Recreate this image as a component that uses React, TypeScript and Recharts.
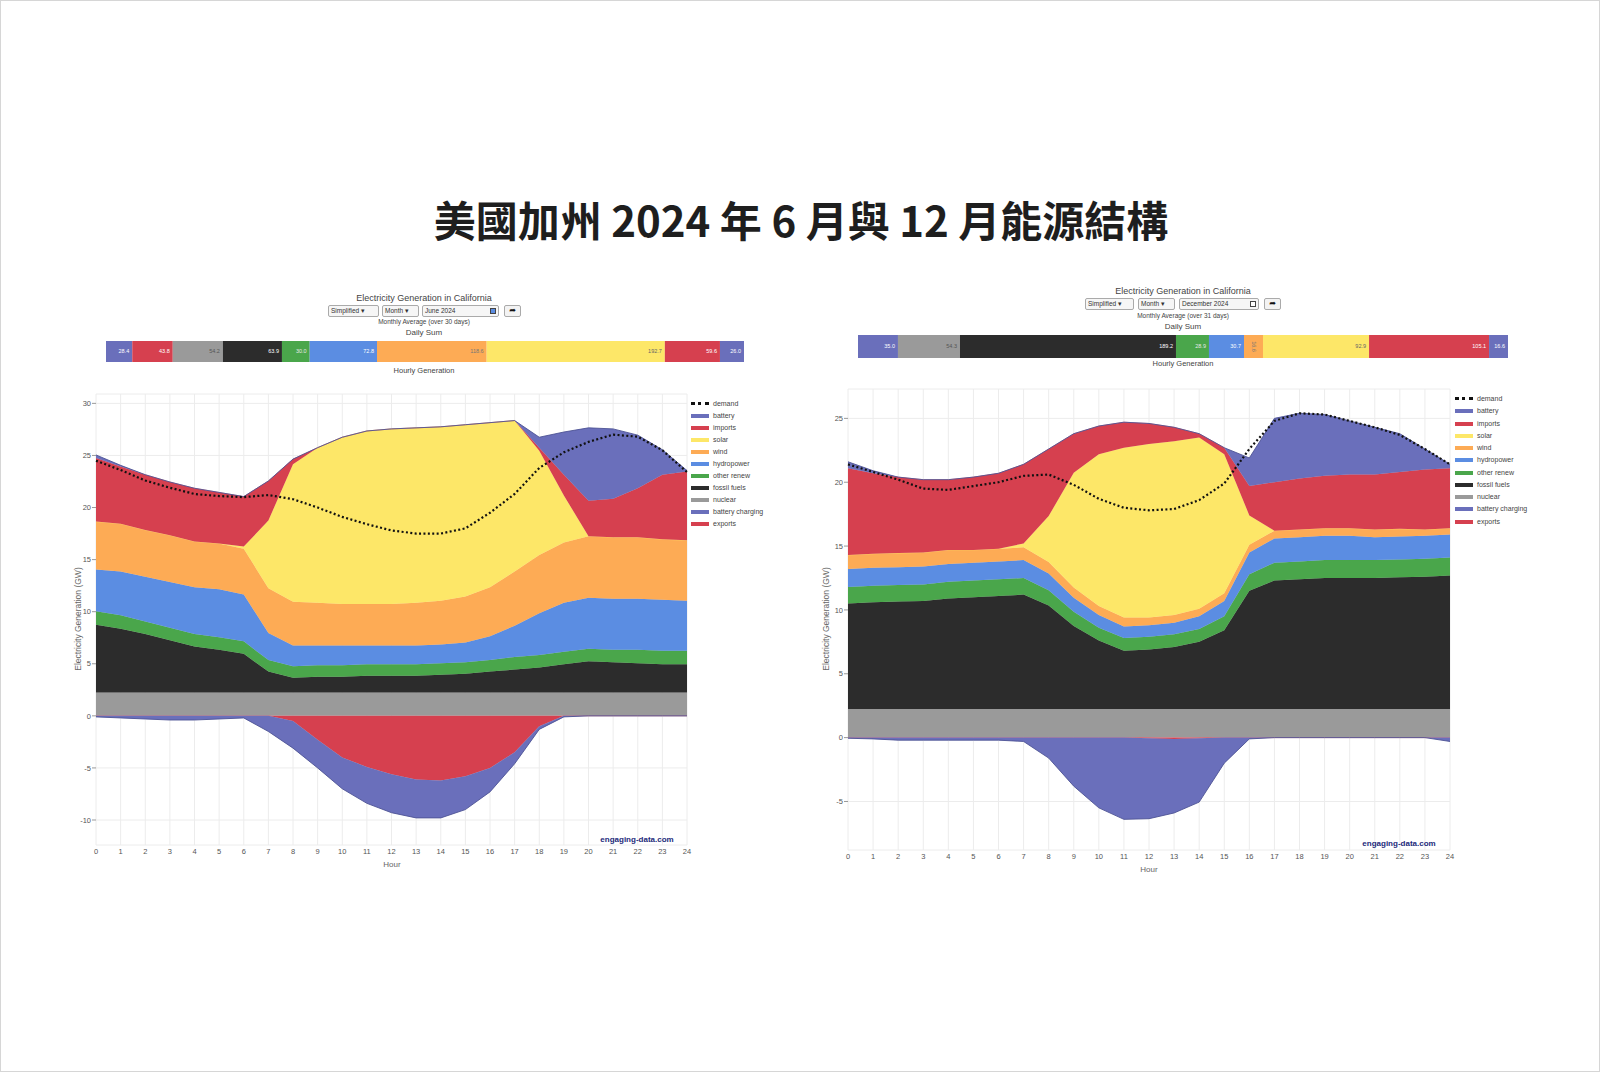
import React from 'react';
import { ComposedChart, Area, Line, XAxis, YAxis, CartesianGrid, BarChart, Bar, LabelList } from 'recharts';

// ---------- data ----------
const hours = [0, 1, 2, 3, 4, 5, 6, 7, 8, 9, 10, 11, 12, 13, 14, 15, 16, 17, 18, 19, 20, 21, 22, 23, 24];
const yTicksJune = [-10, -5, 0, 5, 10, 15, 20, 25, 30];
const yTicksDec = [-5, 0, 5, 10, 15, 20, 25];

// June 2024 (GW)
const junNuclear = [2.25, 2.25, 2.25, 2.25, 2.25, 2.25, 2.25, 2.25, 2.25, 2.25, 2.25, 2.25, 2.25, 2.25, 2.25, 2.25, 2.25, 2.25, 2.25, 2.25, 2.25, 2.25, 2.25, 2.25, 2.25];
const junFossil = [6.5, 6.1, 5.6, 5.0, 4.4, 4.1, 3.7, 2.0, 1.4, 1.5, 1.5, 1.6, 1.6, 1.6, 1.7, 1.8, 2.0, 2.2, 2.4, 2.7, 3.0, 2.9, 2.8, 2.7, 2.7];
const junOther = [1.3, 1.3, 1.2, 1.2, 1.2, 1.2, 1.2, 1.1, 1.1, 1.1, 1.1, 1.1, 1.1, 1.1, 1.1, 1.1, 1.1, 1.2, 1.2, 1.2, 1.2, 1.2, 1.3, 1.3, 1.3];
const junHydro = [4.0, 4.2, 4.3, 4.4, 4.5, 4.6, 4.5, 2.6, 2.0, 1.9, 1.9, 1.8, 1.8, 1.8, 1.8, 1.9, 2.3, 3.0, 4.0, 4.7, 4.9, 4.9, 4.9, 4.9, 4.8];
const junWind = [4.6, 4.6, 4.5, 4.5, 4.4, 4.4, 4.4, 4.3, 4.2, 4.1, 4.0, 4.0, 4.0, 4.1, 4.2, 4.4, 4.7, 5.2, 5.6, 5.8, 5.9, 5.9, 5.9, 5.8, 5.8];
const junSolar = [0, 0, 0, 0, 0, 0, 0.2, 6.5, 13.2, 14.9, 16.0, 16.6, 16.8, 16.8, 16.7, 16.5, 15.8, 14.5, 10.0, 4.5, 0, 0, 0, 0, 0];
const junImports = [6.1, 5.5, 5.3, 5.1, 5.1, 4.9, 4.8, 3.8, 0.5, 0, 0, 0, 0, 0, 0, 0, 0, 0, 0.3, 2.0, 3.4, 3.7, 4.7, 6.2, 6.6];
const junBattery = [0.3, 0.1, 0, 0, 0, 0, 0, 0, 0, 0, 0, 0, 0, 0, 0, 0, 0, 0, 1.0, 4.1, 7.0, 6.7, 5.1, 2.4, 0.1];
const junExports = [0, 0, 0, 0, 0, 0, 0, 0, -0.5, -2.3, -4.0, -4.9, -5.6, -6.1, -6.2, -5.8, -5.0, -3.5, -1.0, 0, 0, 0, 0, 0, 0];
const junCharging = [-0.1, -0.2, -0.3, -0.4, -0.4, -0.3, -0.2, -1.5, -2.6, -2.7, -3.0, -3.5, -3.7, -3.7, -3.6, -3.2, -2.3, -1.1, -0.3, -0.1, 0, 0, 0, 0, 0];
const junDemand = [24.5, 23.6, 22.6, 21.9, 21.3, 21.1, 21.0, 21.2, 20.8, 20.0, 19.1, 18.4, 17.8, 17.5, 17.5, 18.0, 19.5, 21.3, 23.8, 25.3, 26.3, 27.0, 26.8, 25.5, 23.4];

// December 2024 (GW)
const decNuclear = [2.25, 2.25, 2.25, 2.25, 2.25, 2.25, 2.25, 2.25, 2.25, 2.25, 2.25, 2.25, 2.25, 2.25, 2.25, 2.25, 2.25, 2.25, 2.25, 2.25, 2.25, 2.25, 2.25, 2.25, 2.25];
const decFossil = [8.25, 8.35, 8.4, 8.45, 8.65, 8.75, 8.85, 8.95, 8.1, 6.5, 5.35, 4.55, 4.65, 4.85, 5.25, 6.15, 9.25, 10.05, 10.15, 10.25, 10.25, 10.25, 10.3, 10.35, 10.45];
const decOther = [1.3, 1.3, 1.3, 1.3, 1.3, 1.3, 1.3, 1.3, 1.2, 1.1, 1.0, 1.0, 1.0, 1.0, 1.0, 1.1, 1.3, 1.4, 1.4, 1.4, 1.4, 1.4, 1.4, 1.4, 1.4];
const decHydro = [1.4, 1.4, 1.4, 1.4, 1.4, 1.4, 1.4, 1.4, 1.3, 1.1, 1.0, 0.9, 0.9, 0.9, 1.0, 1.2, 1.7, 1.9, 1.9, 1.9, 1.9, 1.8, 1.8, 1.8, 1.8];
const decWind = [1.1, 1.1, 1.1, 1.1, 1.1, 1.0, 1.0, 1.0, 0.9, 0.8, 0.7, 0.7, 0.6, 0.6, 0.6, 0.6, 0.6, 0.6, 0.6, 0.6, 0.6, 0.6, 0.6, 0.5, 0.5];
const decSolar = [0, 0, 0, 0, 0, 0, 0, 0.3, 3.6, 9.0, 11.9, 13.3, 13.6, 13.6, 13.4, 10.9, 2.3, 0, 0, 0, 0, 0, 0, 0, 0];
const decImports = [6.8, 6.3, 5.95, 5.7, 5.5, 5.7, 5.9, 6.2, 5.25, 3.05, 2.2, 2.0, 1.6, 1.1, 0.3, 0.5, 2.3, 3.8, 4.0, 4.1, 4.2, 4.3, 4.45, 4.7, 4.7];
const decBattery = [0.5, 0.2, 0, 0, 0, 0, 0, 0, 0, 0, 0, 0, 0, 0, 0, 0, 2.2, 5.0, 5.1, 4.8, 4.2, 3.7, 3.0, 1.6, 0.3];
const decExports = [0, 0, 0, 0, 0, 0, 0, 0, 0, 0, 0, 0, -0.05, -0.1, -0.05, 0, 0, 0, 0, 0, 0, 0, 0, 0, 0];
const decCharging = [-0.05, -0.1, -0.2, -0.2, -0.2, -0.2, -0.2, -0.3, -1.6, -3.8, -5.5, -6.4, -6.3, -5.8, -5.0, -2.0, -0.1, 0, 0, 0, 0, 0, 0, 0, -0.3];
const decDemand = [21.4, 20.8, 20.2, 19.5, 19.4, 19.7, 20.0, 20.5, 20.6, 19.8, 18.7, 18.0, 17.8, 17.9, 18.6, 19.9, 22.6, 24.8, 25.4, 25.3, 24.8, 24.3, 23.7, 22.6, 21.4];

// Daily sums (GWh)
const junDailyKeys = ['battery', 'imports', 'nuclear', 'fossil', 'other', 'hydro', 'wind', 'solar', 'exports', 'charging'];
const junDailyValues = [28.4, 43.8, 54.2, 63.9, 30.0, 72.8, 118.6, 192.7, 59.6, 26.0];
const decDailyKeys = ['battery', 'nuclear', 'fossil', 'other', 'hydro', 'wind', 'solar', 'imports', 'charging'];
const decDailyValues = [35.0, 54.3, 189.2, 28.9, 30.7, 16.6, 92.9, 105.1, 16.6];

const legendKeys = ['demand', 'battery', 'imports', 'solar', 'wind', 'hydro', 'other', 'fossil', 'nuclear', 'charging', 'exports'];
const legendLabels = ['demand', 'battery', 'imports', 'solar', 'wind', 'hydropower', 'other renew', 'fossil fuels', 'nuclear', 'battery charging', 'exports'];

// ---------- styles ----------
const colors: Record<string, string> = {
  battery: '#6a6fbb',
  imports: '#d6404f',
  solar: '#fde768',
  wind: '#fdab55',
  hydro: '#5b8de2',
  other: '#4aa64b',
  fossil: '#2c2c2c',
  nuclear: '#9a9a9a',
  charging: '#6a6fbb',
  exports: '#d6404f',
  demand: '#111111',
};
const labelColors: Record<string, string> = {
  battery: '#ffffff', imports: '#ffffff', solar: '#666', wind: '#777', hydro: '#ffffff',
  other: '#e8e8e8', fossil: '#ffffff', nuclear: '#555', charging: '#ffffff', exports: '#ffffff',
};
const positiveOrder = ['nuclear', 'fossil', 'other', 'hydro', 'wind', 'solar', 'imports', 'battery'];
const negativeOrder = ['exports', 'charging'];
const FONT = '"Liberation Sans", Arial, Helvetica, sans-serif';

function buildRows(s: Record<string, number[]>) {
  return hours.map((h, i) => {
    const r: Record<string, number> = { hour: h };
    Object.keys(s).forEach((k) => { r[k] = s[k][i]; });
    return r;
  });
}

const junRows = buildRows({
  nuclear: junNuclear, fossil: junFossil, other: junOther, hydro: junHydro, wind: junWind,
  solar: junSolar, imports: junImports, battery: junBattery, exports: junExports, charging: junCharging, demand: junDemand,
});
const decRows = buildRows({
  nuclear: decNuclear, fossil: decFossil, other: decOther, hydro: decHydro, wind: decWind,
  solar: decSolar, imports: decImports, battery: decBattery, exports: decExports, charging: decCharging, demand: decDemand,
});

function stackArea(k: string, stackId: string) {
  const edge = k === 'battery' || k === 'charging';
  return (
    <Area key={k} dataKey={k} stackId={stackId} type="linear" fill={colors[k]} fillOpacity={1}
      stroke={edge ? '#4d5294' : colors[k]} strokeWidth={edge ? 0.9 : 0.5}
      isAnimationActive={false} dot={false} activeDot={false} />
  );
}

function HourlyChart(props: any) {
  const { rows, left, top, width, height, margin, yDomain, yTicks } = props;
  return (
    <div style={{ position: 'absolute', left, top, width, height }}>
      <ComposedChart width={width} height={height} data={rows} margin={margin}>
        <CartesianGrid stroke="#ececec" strokeWidth={1} />
        <XAxis dataKey="hour" type="number" domain={[0, 24]} ticks={hours} interval={0} axisLine={false}
          tickLine={false} tickSize={3} tickMargin={1} height={24}
          tick={{ fontSize: 7.5, fill: '#555', fontFamily: FONT }} />
        <YAxis type="number" domain={yDomain} ticks={yTicks} allowDataOverflow width={40} axisLine={false}
          tickLine={{ stroke: '#999' }} tickSize={4} tickMargin={1} interval={0}
          tick={{ fontSize: 7.5, fill: '#555', fontFamily: FONT }} />
        {positiveOrder.map((k) => stackArea(k, 'pos'))}
        {negativeOrder.map((k) => stackArea(k, 'neg'))}
        <Line dataKey="demand" type="linear" stroke={colors.demand} strokeWidth={2.2} strokeDasharray="2 2.4"
          dot={false} activeDot={false} isAnimationActive={false} />
      </ComposedChart>
    </div>
  );
}

function DailyBar(props: any) {
  const { keys, values, left, top, width, height, rotateKey } = props;
  const row: Record<string, any> = { name: 'sum' };
  keys.forEach((k: string, i: number) => { row['s' + i] = values[i]; });
  return (
    <div style={{ position: 'absolute', left, top, width, height }}>
      <BarChart layout="vertical" width={width} height={height} data={[row]}
        margin={{ top: 0, right: 0, bottom: 0, left: 0 }} barCategoryGap={0}>
        <XAxis type="number" hide domain={[0, 'dataMax']} />
        <YAxis type="category" dataKey="name" hide />
        {keys.map((k: string, i: number) => (
          <Bar key={'s' + i} dataKey={'s' + i} stackId="d" fill={colors[k]} isAnimationActive={false}>
            <LabelList dataKey={'s' + i} position={k === rotateKey ? 'center' : 'insideRight'} offset={3}
              angle={k === rotateKey ? 90 : 0}
              formatter={(v: any) => Number(v).toFixed(1)}
              style={{ fontSize: 5.5, fill: labelColors[k], fontFamily: FONT }} />
          </Bar>
        ))}
      </BarChart>
    </div>
  );
}

function Txt(props: any) {
  const { x, y, size, children, color, weight, family } = props;
  return (
    <div style={{
      position: 'absolute', left: x, top: y, transform: 'translate(-50%, -50%)', whiteSpace: 'nowrap',
      fontSize: size, color: color || '#444', fontWeight: weight || 'normal', fontFamily: family || FONT, lineHeight: 1,
    }}>{children}</div>
  );
}

function Ctl(props: any) {
  const { x, y, w, children, icon } = props;
  return (
    <div style={{
      position: 'absolute', left: x, top: y - 6, width: w, height: 12, boxSizing: 'border-box',
      border: '1px solid #aaa', borderRadius: 2, background: '#f6f6f6', fontSize: 6.5, fontFamily: FONT,
      color: '#333', lineHeight: '10px', paddingLeft: 2, whiteSpace: 'nowrap', overflow: 'hidden',
    }}>
      {children}
      {icon ? <span style={{ position: 'absolute', right: 2, top: 2, width: 6, height: 6, background: icon, border: '1px solid #444', boxSizing: 'border-box' }} /> : null}
    </div>
  );
}

function ShareBtn(props: any) {
  const { x, y } = props;
  return (
    <div style={{
      position: 'absolute', left: x, top: y - 6, width: 17, height: 12, boxSizing: 'border-box',
      border: '1px solid #aaa', borderRadius: 2, background: '#f3f3f3', fontSize: 8, lineHeight: '10px',
      textAlign: 'center', color: '#111', fontWeight: 'bold', fontFamily: '"DejaVu Sans", sans-serif',
    }}>➦</div>
  );
}

function Legend(props: any) {
  const { x, y, step } = props;
  return (
    <>
      {legendKeys.map((k, i) => (
        <div key={k} style={{ position: 'absolute', left: x, top: y + i * step - 5, height: 10, whiteSpace: 'nowrap' }}>
          {k === 'demand' ? (
            <div style={{ position: 'absolute', left: 0, top: 3, width: 18, height: 0, borderTop: '3px dotted #111' }} />
          ) : (
            <div style={{ position: 'absolute', left: 0, top: 3, width: 18, height: 4, background: colors[k] }} />
          )}
          <div style={{ position: 'absolute', left: 22, top: 0, fontSize: 7, lineHeight: '10px', color: '#444', fontFamily: FONT }}>
            {legendLabels[i]}
          </div>
        </div>
      ))}
    </>
  );
}

function YTitle(props: any) {
  const { x, y } = props;
  return (
    <div style={{
      position: 'absolute', left: x, top: y, transform: 'translate(-50%, -50%) rotate(-90deg)', whiteSpace: 'nowrap',
      fontSize: 8.5, color: '#666', fontFamily: FONT, lineHeight: 1,
    }}>Electricity Generation (GW)</div>
  );
}

export default function App() {
  return (
    <div style={{
      position: 'absolute', left: 0, top: 0, width: 1600, height: 1072, background: '#ffffff',
      boxSizing: 'border-box', border: '1px solid #d6d6d6', overflow: 'hidden',
    }}>
      <Txt x={800} y={218} size={42} color="#1e1e1e" weight="bold" family='"Noto Sans CJK TC", "Noto Sans CJK SC", sans-serif'>
        美國加州 2024 年 6 月與 12 月能源結構
      </Txt>

      {/* ---------- June ---------- */}
      <Txt x={423} y={297} size={9} color="#444">Electricity Generation in California</Txt>
      <Ctl x={327} y={310} w={51}>Simplified ▾</Ctl>
      <Ctl x={381} y={310} w={37}>Month ▾</Ctl>
      <Ctl x={421} y={310} w={77} icon="#5b8de2">June 2024</Ctl>
      <ShareBtn x={503} y={310} />
      <Txt x={423} y={321} size={6.5} color="#444">Monthly Average (over 30 days)</Txt>
      <Txt x={423} y={332} size={8} color="#444">Daily Sum</Txt>
      <DailyBar keys={junDailyKeys} values={junDailyValues} left={105} top={340} width={638} height={21} />
      <Txt x={423} y={370} size={7.5} color="#444">Hourly Generation</Txt>
      <HourlyChart rows={junRows} left={0} top={380} width={800} height={500}
        margin={{ top: 13, right: 114, bottom: 12, left: 55 }} yDomain={[-12.4, 30.9]} yTicks={yTicksJune} />
      <YTitle x={77} y={618} />
      <Txt x={391} y={864} size={8} color="#666">Hour</Txt>
      <Txt x={636} y={839} size={8} color="#1c2a7a" weight="bold">engaging-data.com</Txt>
      <Legend x={690} y={403} step={12.04} />

      {/* ---------- December ---------- */}
      <Txt x={1182} y={290} size={9} color="#444">Electricity Generation in California</Txt>
      <Ctl x={1084} y={303} w={49}>Simplified ▾</Ctl>
      <Ctl x={1137} y={303} w={37}>Month ▾</Ctl>
      <Ctl x={1178} y={303} w={80} icon="#ffffff">December 2024</Ctl>
      <ShareBtn x={1263} y={303} />
      <Txt x={1182} y={315} size={6.5} color="#444">Monthly Average (over 31 days)</Txt>
      <Txt x={1182} y={326} size={8} color="#444">Daily Sum</Txt>
      <DailyBar keys={decDailyKeys} values={decDailyValues} left={857} top={334} width={650} height={23} rotateKey="wind" />
      <Txt x={1182} y={363} size={7.5} color="#444">Hourly Generation</Txt>
      <HourlyChart rows={decRows} left={800} top={375} width={800} height={500}
        margin={{ top: 13, right: 151, bottom: 2, left: 7 }} yDomain={[-8.8, 27.3]} yTicks={yTicksDec} />
      <YTitle x={825} y={618} />
      <Txt x={1148} y={869} size={8} color="#666">Hour</Txt>
      <Txt x={1398} y={843} size={8} color="#1c2a7a" weight="bold">engaging-data.com</Txt>
      <Legend x={1454} y={398} step={12.25} />
    </div>
  );
}
